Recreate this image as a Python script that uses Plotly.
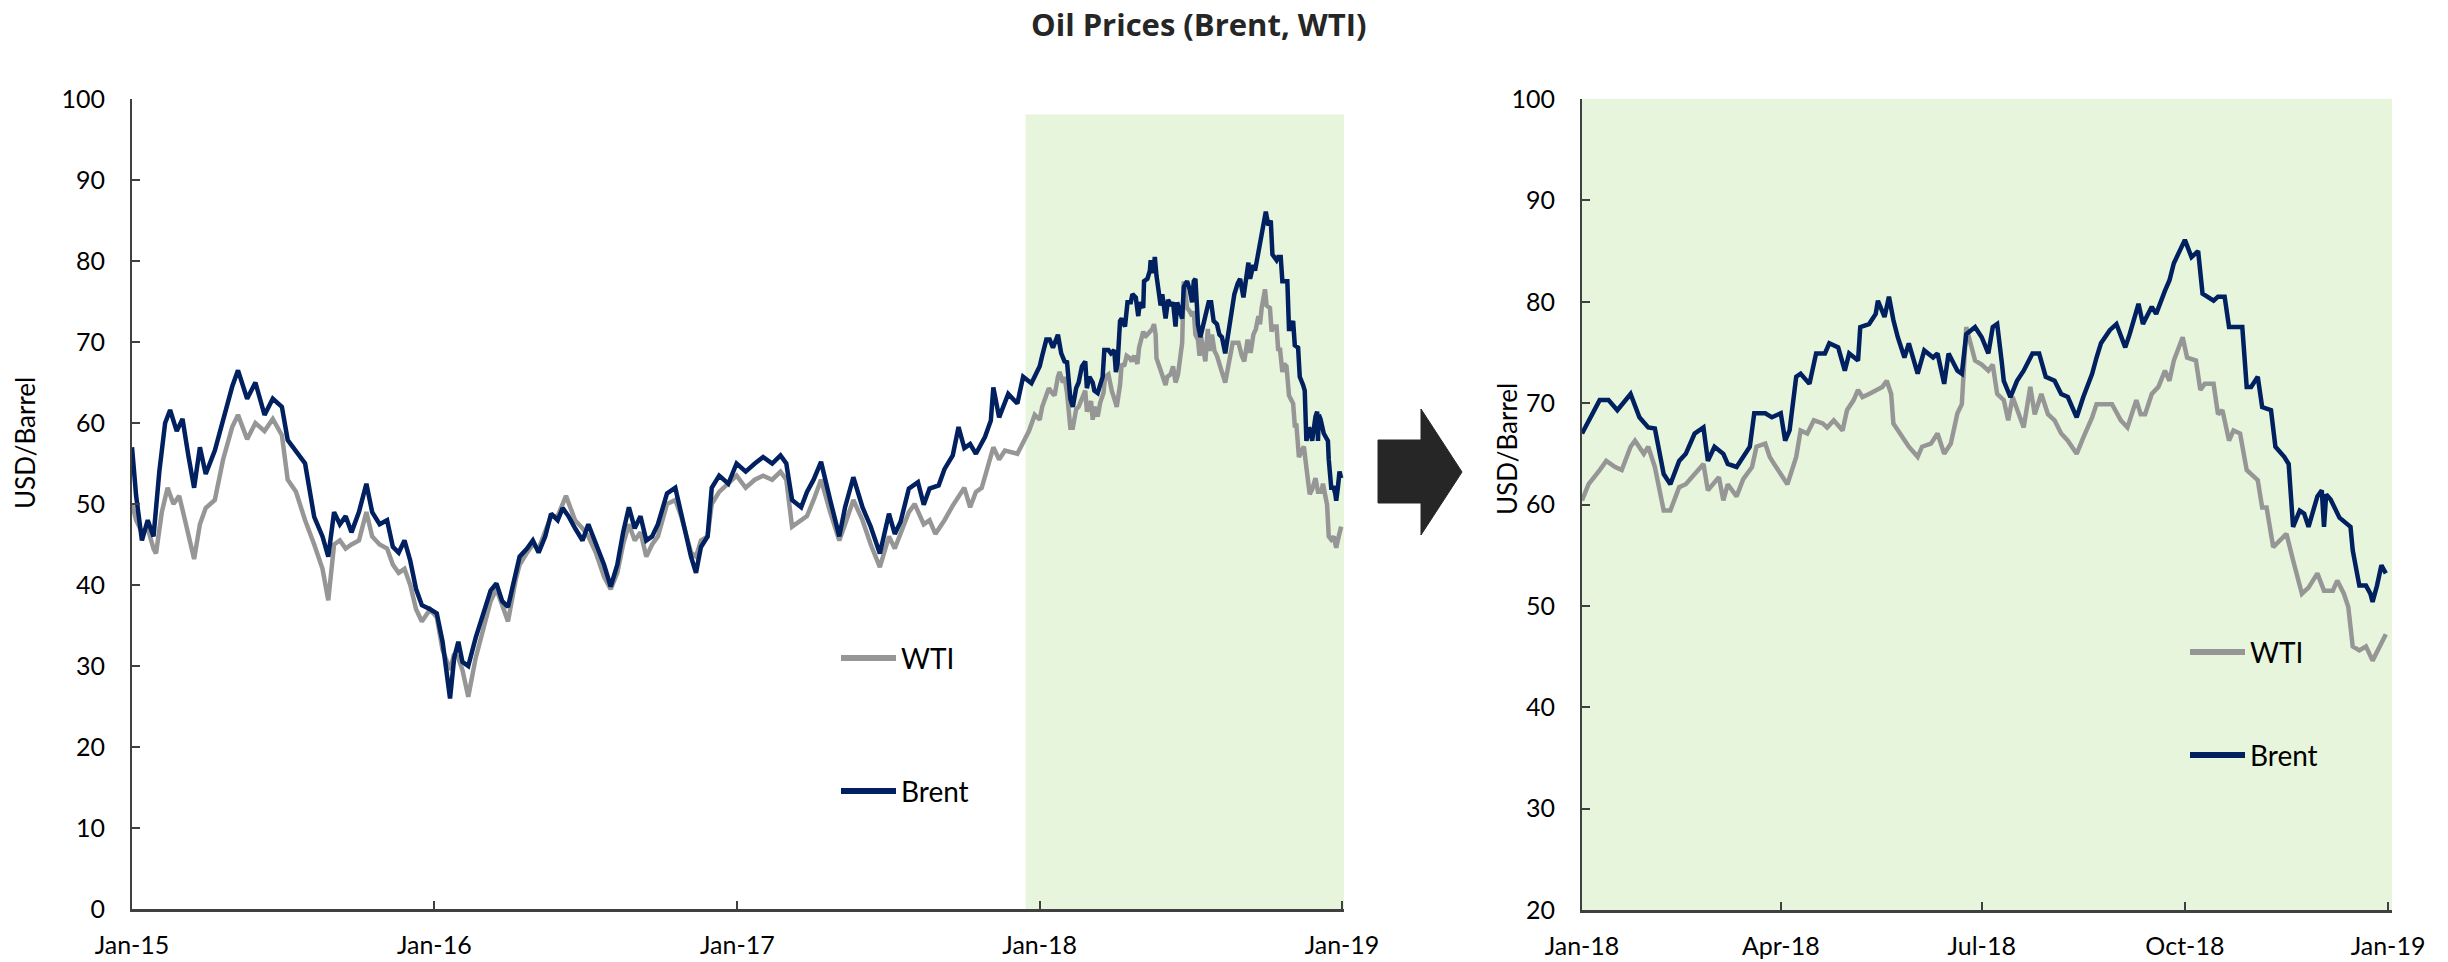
import pandas as pd
import plotly.graph_objects as go

# ---------------- data ----------------
# 2015-2017: day offsets from 2015-01-01
brent_1517_day = [0, 5, 12, 19, 26, 33, 40, 46, 54, 61, 68, 75, 82, 89, 100, 110, 121, 128, 139, 149,
                  160, 170, 181, 188, 198, 209, 220, 230, 237, 244, 251, 258, 265, 274, 283, 290, 299, 308,
                  315, 322, 329, 336, 343, 350, 360, 368, 375, 384, 389, 394, 399, 406, 415, 424, 433, 440,
                  447, 454, 463, 468, 477, 484, 491, 499, 506, 514, 520, 527, 535, 544, 551, 560, 570, 578,
                  586, 593, 600, 607, 614, 621, 628, 635, 646, 656, 663, 670, 675, 681, 687, 695, 700, 709,
                  720, 730, 741, 752, 762, 773, 783, 790, 797, 808, 815, 823, 832, 843, 854, 861, 871, 882,
                  892, 903, 914, 921, 928, 938, 949, 956, 963, 974, 981, 991, 998, 1005, 1012, 1019, 1030,
                  1037, 1040, 1047, 1058, 1069, 1076, 1086]
brent_1517 = [57.0, 51.0, 45.5, 48.0, 46.0, 54.0, 60.0, 61.6, 59.0, 60.5, 56.0, 52.0, 57.0, 53.7, 56.6, 60.5,
              64.5, 66.5, 63.0, 65.0, 61.0, 63.0, 62.0, 57.9, 56.5, 55.0, 48.4, 46.0, 43.5, 49.0, 47.5, 48.5,
              46.5, 49.0, 52.5, 49.0, 47.5, 48.0, 44.7, 44.0, 45.5, 43.0, 39.5, 37.5, 37.0, 36.5, 33.0, 26.0,
              31.0, 33.0, 30.5, 30.0, 33.5, 36.5, 39.3, 40.2, 38.0, 37.3, 41.5, 43.5, 44.5, 45.5, 44.0, 46.0,
              48.8, 48.0, 49.5, 48.5, 47.0, 45.5, 47.5, 45.0, 42.5, 39.8, 42.5, 46.5, 49.6, 47.0, 48.5, 45.5,
              46.0, 47.5, 51.3, 52.0, 48.8, 46.0, 43.5, 41.5, 44.7, 46.0, 52.0, 53.5, 52.5, 55.0, 54.0, 55.0,
              55.8, 55.0, 56.0, 55.0, 50.5, 49.6, 51.5, 53.0, 55.2, 50.5, 46.0, 49.6, 53.3, 49.6, 47.2, 43.9,
              48.8, 46.3, 47.8, 51.9, 52.7, 49.9, 51.9, 52.3, 54.3, 56.0, 59.5, 56.9, 57.4, 56.2, 58.3, 60.3,
              64.4, 60.7, 63.6, 62.4, 65.7, 64.9]

wti_1517_day = [0, 5, 12, 19, 26, 29, 36, 43, 50, 57, 64, 75, 82, 89, 100, 110, 121, 128, 139, 149, 160,
                170, 181, 188, 198, 209, 220, 230, 237, 244, 251, 258, 265, 274, 283, 290, 299, 308, 315,
                322, 329, 336, 343, 350, 360, 368, 375, 384, 389, 394, 399, 406, 415, 424, 433, 440, 447,
                454, 463, 468, 477, 484, 491, 499, 506, 514, 524, 535, 544, 551, 560, 570, 578, 586, 593,
                600, 607, 614, 621, 628, 635, 646, 656, 663, 670, 675, 681, 687, 695, 700, 709, 720, 730,
                741, 752, 762, 773, 783, 790, 797, 808, 815, 823, 832, 843, 854, 861, 871, 882, 892, 903,
                914, 921, 928, 938, 945, 956, 963, 970, 981, 991, 1005, 1012, 1019, 1026, 1033, 1040, 1047,
                1054, 1069, 1076, 1083, 1090]
wti_1517 = [50.0, 48.0, 46.5, 47.0, 44.5, 43.9, 49.0, 52.0, 50.0, 51.0, 48.0, 43.2, 47.5, 49.5, 50.5, 55.5,
            59.5, 61.0, 58.0, 60.0, 59.0, 60.5, 58.5, 53.0, 51.5, 48.0, 45.0, 42.0, 38.1, 45.0, 45.5, 44.5,
            45.0, 45.5, 49.0, 46.0, 45.0, 44.5, 42.5, 41.5, 42.0, 40.0, 37.0, 35.5, 37.0, 36.0, 32.0, 29.5,
            31.5, 31.0, 29.5, 26.2, 31.0, 34.5, 38.0, 39.5, 37.5, 35.5, 40.5, 42.5, 44.0, 45.0, 44.5, 46.5,
            48.5, 48.5, 51.0, 48.0, 47.0, 46.0, 44.0, 41.0, 39.5, 41.5, 45.0, 47.5, 45.5, 46.5, 43.5, 45.0,
            46.0, 50.0, 50.5, 48.5, 46.0, 44.0, 43.5, 45.5, 46.0, 50.0, 51.5, 52.5, 53.5, 52.0, 53.0, 53.5,
            53.0, 54.0, 53.0, 47.2, 48.0, 48.5, 50.5, 53.0, 49.0, 45.5, 47.5, 50.5, 48.0, 45.0, 42.2, 46.0,
            44.5, 46.5, 49.0, 50.0, 47.5, 48.0, 46.3, 48.0, 49.8, 52.0, 49.6, 51.5, 52.0, 54.5, 57.0, 55.5,
            56.6, 56.2, 57.5, 59.0, 61.0]

# 2018: day offsets from 2018-01-01
brent_18_day = [0, 3, 8, 12, 16, 22, 26, 30, 33, 37, 40, 44, 47, 51, 55, 57, 60, 64, 66, 70, 73, 76, 78,
                83, 86, 90, 92, 94, 97, 99, 103, 106, 110, 112, 116, 119, 121, 125, 126, 130, 133, 134, 137,
                139, 141, 143, 146, 148, 152, 155, 159, 161, 164, 166, 170, 172, 174, 178, 181, 184, 186,
                188, 190, 191, 194, 197, 200, 204, 207, 210, 214, 217, 220, 224, 227, 231, 233, 235, 239,
                242, 246, 248, 252, 254, 258, 260, 264, 266, 268, 272, 273, 276, 279, 281, 283, 286, 288,
                291, 293, 296, 299, 301, 303, 306, 308, 312, 314, 318, 320, 322, 325, 327, 329, 333, 335,
                336, 337, 339, 341, 343, 348, 349, 352, 355, 357, 358, 360, 362, 364]
brent_18 = [67.0, 68.3, 70.3, 70.3, 69.3, 70.9, 68.6, 67.6, 67.5, 63.0, 62.0, 64.3, 65.0, 67.0, 67.6, 64.3,
            65.7, 65.0, 64.0, 63.7, 64.7, 65.7, 69.0, 69.0, 68.6, 69.0, 66.3, 67.3, 72.6, 72.9, 71.9, 74.9,
            74.9, 75.9, 75.5, 73.2, 74.9, 74.2, 77.5, 77.8, 78.8, 80.1, 78.5, 80.5, 78.2, 76.5, 74.5, 75.9,
            72.9, 75.2, 74.5, 74.9, 71.9, 74.9, 73.2, 72.9, 76.8, 77.5, 76.5, 74.9, 77.5, 77.8, 74.2, 72.2,
            70.6, 72.2, 73.2, 74.9, 74.9, 72.6, 72.2, 70.9, 70.6, 68.6, 70.6, 72.9, 74.5, 75.9, 77.2, 77.8,
            75.5, 76.8, 79.8, 77.8, 79.5, 78.8, 81.1, 82.1, 83.8, 85.7, 86.1, 84.4, 85.0, 80.8, 80.5, 80.1,
            80.5, 80.5, 77.5, 77.5, 77.5, 71.6, 71.6, 72.6, 69.6, 69.3, 65.7, 64.7, 64.0, 57.8, 59.4, 59.1,
            57.8, 60.8, 61.4, 57.8, 61.0, 60.5, 59.7, 58.7, 57.8, 55.5, 52.0, 52.0, 51.2, 50.4, 52.0, 54.0,
            53.2]

wti_18_day = [0, 3, 8, 11, 15, 18, 22, 24, 28, 30, 33, 37, 40, 44, 47, 51, 55, 57, 62, 64, 66, 70, 73, 77,
              79, 83, 85, 87, 91, 93, 97, 99, 102, 105, 109, 111, 114, 118, 120, 123, 125, 127, 130, 133,
              136, 138, 140, 141, 146, 148, 152, 154, 158, 161, 164, 167, 170, 172, 174, 178, 181, 184,
              186, 188, 191, 193, 195, 198, 200, 203, 205, 208, 211, 214, 217, 220, 224, 227, 231, 233,
              236, 240, 244, 247, 251, 253, 255, 258, 261, 264, 266, 268, 272, 274, 278, 280, 282, 286,
              288, 290, 293, 295, 298, 301, 303, 306, 308, 310, 313, 316, 319, 322, 326, 329, 333, 336,
              340, 342, 345, 347, 349, 352, 355, 358, 361, 364]
wti_18 = [60.4, 62.0, 63.4, 64.3, 63.7, 63.4, 65.7, 66.3, 65.0, 65.7, 63.7, 59.4, 59.4, 61.7, 62.0, 63.0,
          64.0, 61.4, 62.7, 60.4, 62.0, 60.8, 62.5, 63.7, 65.7, 66.0, 64.7, 64.0, 62.7, 62.0, 64.7, 67.3,
          67.0, 68.3, 68.0, 67.6, 68.3, 67.3, 69.3, 70.3, 71.3, 70.6, 70.9, 71.3, 71.6, 72.2, 70.9, 68.0,
          66.3, 65.7, 64.7, 65.7, 66.0, 67.0, 65.0, 66.0, 69.0, 69.9, 77.5, 74.2, 73.8, 73.2, 73.8, 70.9,
          70.3, 68.3, 70.6, 68.9, 67.6, 71.6, 68.9, 70.9, 68.9, 68.3, 67.0, 66.3, 65.0, 66.6, 68.6, 69.9,
          69.9, 69.9, 68.3, 67.6, 70.3, 68.9, 68.9, 70.9, 71.6, 73.2, 72.2, 74.2, 76.5, 74.5, 74.2, 71.3,
          71.9, 71.9, 68.9, 69.3, 66.3, 67.3, 67.0, 63.4, 63.0, 62.4, 59.7, 59.7, 55.8, 56.4, 57.1, 54.5,
          51.2, 51.8, 53.2, 51.5, 51.5, 52.5, 51.2, 49.9, 46.0, 45.6, 46.0, 44.6, 46.0, 47.2]

left_y_ticks = [0, 10, 20, 30, 40, 50, 60, 70, 80, 90, 100]
right_y_ticks = [20, 30, 40, 50, 60, 70, 80, 90, 100]
left_x_ticks = ["2015-01-01", "2016-01-01", "2017-01-01", "2018-01-01", "2019-01-01"]
left_x_text = ["Jan-15", "Jan-16", "Jan-17", "Jan-18", "Jan-19"]
right_x_ticks = ["2018-01-01", "2018-04-01", "2018-07-01", "2018-10-01", "2019-01-01"]
right_x_text = ["Jan-18", "Apr-18", "Jul-18", "Oct-18", "Jan-19"]

# ---------------- build ----------------
base15 = pd.Timestamp("2015-01-01")
base18 = pd.Timestamp("2018-01-01")
b_dates_18 = base18 + pd.to_timedelta(brent_18_day, unit="D")
w_dates_18 = base18 + pd.to_timedelta(wti_18_day, unit="D")
b_dates_all = list(base15 + pd.to_timedelta(brent_1517_day, unit="D")) + list(b_dates_18)
w_dates_all = list(base15 + pd.to_timedelta(wti_1517_day, unit="D")) + list(w_dates_18)
b_all = brent_1517 + brent_18
w_all = wti_1517 + wti_18

W, H = 2448, 962
NAVY = "#002060"
GREY = "#969696"
AX = "#404040"
GREEN = "#E7F5DC"
FONT = "Lato"


def px(x):
    return x / W


def py(y):
    return 1 - y / H


fig = go.Figure()
fig.add_trace(go.Scatter(x=w_dates_all, y=w_all, name="WTI", mode="lines",
                         line=dict(color=GREY, width=4.5), xaxis="x", yaxis="y", showlegend=False))
fig.add_trace(go.Scatter(x=b_dates_all, y=b_all, name="Brent", mode="lines",
                         line=dict(color=NAVY, width=4.5), xaxis="x", yaxis="y", showlegend=False))
fig.add_trace(go.Scatter(x=w_dates_18, y=wti_18, name="WTI", mode="lines",
                         line=dict(color=GREY, width=4.5), xaxis="x2", yaxis="y2", showlegend=False))
fig.add_trace(go.Scatter(x=b_dates_18, y=brent_18, name="Brent", mode="lines",
                         line=dict(color=NAVY, width=4.5), xaxis="x2", yaxis="y2", showlegend=False))

axis_common = dict(showgrid=False, zeroline=False, showline=True, linecolor=AX, automargin=False,
                   ticks="inside", tickcolor=AX, tickfont=dict(family=FONT, size=25, color="black"))

left_end = "2019-01-03 10:00"
right_end = "2019-01-02 19:00"

fig.update_layout(
    width=W, height=H, autosize=False, showlegend=False,
    margin=dict(l=0, r=0, t=0, b=0, pad=0),
    paper_bgcolor="white", plot_bgcolor="rgba(0,0,0,0)",
    xaxis=dict(axis_common, domain=[px(132), px(1344)], range=["2015-01-01", left_end],
               tickvals=left_x_ticks, ticktext=left_x_text, linewidth=3, tickwidth=2, ticklen=8,
               ticklabelstandoff=12, anchor="y"),
    yaxis=dict(axis_common, domain=[py(909), py(99)], range=[0, 100], tickvals=left_y_ticks,
               linewidth=2, tickwidth=2, ticklen=8, ticklabelstandoff=20, anchor="x"),
    xaxis2=dict(axis_common, domain=[px(1582), px(2392)], range=["2018-01-01", right_end],
                tickvals=right_x_ticks, ticktext=right_x_text, linewidth=3, tickwidth=2, ticklen=8,
                ticklabelstandoff=12, anchor="y2"),
    yaxis2=dict(axis_common, domain=[py(910), py(99)], range=[20, 100], tickvals=right_y_ticks,
                linewidth=2, tickwidth=2, ticklen=8, ticklabelstandoff=20, anchor="x2"),
)

shapes = [
    # shaded 2018 window on left panel (with soft shadow)
    dict(type="rect", xref="x", yref="y", x0="2017-12-17", x1="2019-01-04 12:00", y0=-0.9, y1=97.6,
         fillcolor="rgba(0,0,0,0.10)", line=dict(width=0), layer="below"),
    dict(type="rect", xref="x", yref="y", x0="2017-12-15", x1=left_end, y0=-0.4, y1=98.1,
         fillcolor=GREEN, line=dict(width=0), layer="below"),
    # right panel background
    dict(type="rect", xref="x2 domain", yref="y2 domain", x0=0, x1=1, y0=0, y1=1,
         fillcolor=GREEN, line=dict(width=0), layer="below"),
    # arrow
    dict(type="path", xref="paper", yref="paper",
         path=(f"M {px(1378)},{py(440)} L {px(1421)},{py(440)} L {px(1421)},{py(409)} "
               f"L {px(1462)},{py(472)} L {px(1421)},{py(535)} L {px(1421)},{py(503)} "
               f"L {px(1378)},{py(503)} Z"),
         fillcolor="#262626", line=dict(color="#262626", width=1)),
]

annotations = [
    dict(text="<b>Oil Prices (Brent, WTI)</b>", x=px(1199), y=py(24), xref="paper", yref="paper",
         showarrow=False, xanchor="center", yanchor="middle",
         font=dict(family="Open Sans", size=31, color="#262626")),
    dict(text="USD/Barrel", x=px(25), y=py(443), xref="paper", yref="paper", textangle=-90,
         showarrow=False, xanchor="center", yanchor="middle", font=dict(family=FONT, size=26, color="black")),
    dict(text="USD/Barrel", x=px(1507), y=py(449), xref="paper", yref="paper", textangle=-90,
         showarrow=False, xanchor="center", yanchor="middle", font=dict(family=FONT, size=26, color="black")),
]

# manual legends (line sample + label)
legend_items = [
    ("WTI", GREY, 841, 896, 658),
    ("Brent", NAVY, 841, 896, 791),
    ("WTI", GREY, 2190, 2245, 652),
    ("Brent", NAVY, 2190, 2245, 755),
]
for label, col, xa, xb, yy in legend_items:
    shapes.append(dict(type="line", xref="paper", yref="paper", x0=px(xa), x1=px(xb), y0=py(yy), y1=py(yy),
                       line=dict(color=col, width=6)))
    annotations.append(dict(text=label, x=px(xb + 3), y=py(yy), xref="paper", yref="paper", showarrow=False,
                            xanchor="left", yanchor="middle", font=dict(family=FONT, size=28, color="black")))

fig.update_layout(shapes=shapes, annotations=annotations)

fig.write_html("out.html", config={"displayModeBar": False},
               post_script="document.body.style.margin='0';document.body.style.overflow='hidden';")
